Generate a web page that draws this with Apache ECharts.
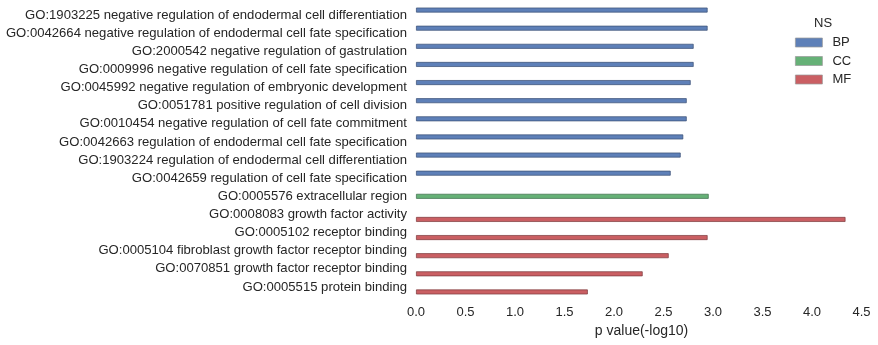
<!DOCTYPE html>
<html>
<head>
<meta charset="utf-8">
<script src="https://cdn.jsdelivr.net/npm/echarts@6/dist/echarts.min.js"></script>
<style>html,body{margin:0;padding:0;background:#fff;}#c{width:878px;height:345px;}</style>
</head>
<body>
<div id="c"></div>
<script>
const categories = [
  "GO:1903225 negative regulation of endodermal cell differentiation",
  "GO:0042664 negative regulation of endodermal cell fate specification",
  "GO:2000542 negative regulation of gastrulation",
  "GO:0009996 negative regulation of cell fate specification",
  "GO:0045992 negative regulation of embryonic development",
  "GO:0051781 positive regulation of cell division",
  "GO:0010454 negative regulation of cell fate commitment",
  "GO:0042663 regulation of endodermal cell fate specification",
  "GO:1903224 regulation of endodermal cell differentiation",
  "GO:0042659 regulation of cell fate specification",
  "GO:0005576 extracellular region",
  "GO:0008083 growth factor activity",
  "GO:0005102 receptor binding",
  "GO:0005104 fibroblast growth factor receptor binding",
  "GO:0070851 growth factor receptor binding",
  "GO:0005515 protein binding"
];
const namespaces = ["BP","BP","BP","BP","BP","BP","BP","BP","BP","BP","CC","MF","MF","MF","MF","MF"];
const pvalues = [2.946, 2.946, 2.805, 2.805, 2.775, 2.735, 2.735, 2.70, 2.674, 2.573, 2.957, 4.339, 2.946, 2.553, 2.29, 1.736];
const seriesNames = ["BP", "CC", "MF"];
const xTicks = [0.0, 0.5, 1.0, 1.5, 2.0, 2.5, 3.0, 3.5, 4.0, 4.5];

const colors = {BP: "#4C72B0", CC: "#55A868", MF: "#C44E52"};
const borders = {BP: "#3a4f75", CC: "#3f6e4c", MF: "#7e3a3d"};

const series = seriesNames.map(ns => ({
  name: ns,
  type: "bar",
  barWidth: 5,
  barGap: "0%",
  data: pvalues.map((v, i) => namespaces[i] === ns ? v : null),
  itemStyle: {color: colors[ns], borderColor: borders[ns], borderWidth: 0.8, opacity: 0.9},
  emphasis: {disabled: true}
}));

const chart = echarts.init(document.getElementById("c"), null, {renderer: "canvas"});
chart.setOption({
  animation: false,
  backgroundColor: "#fff",
  textStyle: {fontFamily: "Liberation Sans, Arial, sans-serif"},
  color: seriesNames.map(n => colors[n]),
  grid: {left: 416, right: 11, top: 6, height: 290, containLabel: false},
  legend: {
    orient: "vertical",
    left: 790,
    top: 31,
    itemWidth: 27,
    itemHeight: 9,
    itemGap: 5.5,
    data: seriesNames,
    textStyle: {fontSize: 13, color: "#262626", padding: [0, 0, 0, 5]},
    itemStyle: {borderColor: "#9a9a9a", borderWidth: 0.8},
    icon: "rect"
  },
  graphic: [{
    type: "text",
    left: 814,
    top: 17,
    style: {text: "NS", fontSize: 13, fill: "#262626", fontFamily: "Liberation Sans, Arial, sans-serif"}
  }],
  xAxis: {
    type: "value",
    min: 0,
    max: 4.556,
    interval: 0.5,
    name: "p value(-log10)",
    nameLocation: "middle",
    nameGap: 28,
    nameTextStyle: {fontSize: 14, color: "#262626"},
    axisLine: {show: false},
    axisTick: {show: false},
    splitLine: {show: false},
    axisLabel: {
      fontSize: 13, color: "#262626", margin: 10,
      showMaxLabel: true,
      formatter: v => xTicks.some(t => Math.abs(t - v) < 1e-9) ? v.toFixed(1) : ""
    }
  },
  yAxis: {
    type: "category",
    data: categories,
    inverse: true,
    axisLine: {show: false},
    axisTick: {show: false},
    splitLine: {show: false},
    axisLabel: {fontSize: 13.1, color: "#262626", margin: 9}
  },
  series: series
});
</script>
</body>
</html>
